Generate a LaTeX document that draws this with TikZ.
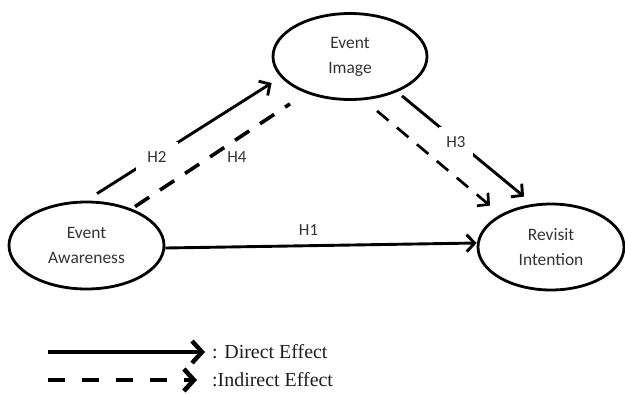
\documentclass[tikz,border=0pt]{standalone}
\usepackage{fontspec}
\setmainfont{Carlito}
\newfontfamily\legfont{Liberation Serif}
\usetikzlibrary{shapes.geometric,arrows.meta,calc}
\definecolor{txtgray}{HTML}{333333}
\definecolor{legtxt}{HTML}{1E1E1E}
\begin{document}
\begin{tikzpicture}[x=1bp,y=-1bp,
  construct/.style={ellipse,draw,line width=2.8bp,inner sep=0pt,align=center,
    minimum width=154bp,minimum height=86bp,
    font=\fontsize{17.5}{25}\selectfont,text=txtgray},
  hyp/.style={font=\fontsize{17}{20}\selectfont,text=txtgray,inner sep=0pt},
  direct/.style={line width=2.9bp,-{Straight Barb[length=8bp,width=17bp,line width=2.9bp]}},
  indirect/.style={line width=3.6bp,dash pattern=on 17bp off 13bp},
  indirectarrow/.style={line width=2.7bp,dash pattern=on 15bp off 11bp,
    -{Straight Barb[length=8bp,width=17bp,line width=2.7bp]}},
  legsolid/.style={line width=4.4bp,-{Straight Barb[length=10bp,width=22bp,line width=4.4bp]}},
  legdash/.style={line width=4.6bp,dash pattern=on 17bp off 17bp,
    -{Straight Barb[length=10bp,width=22bp,line width=4.6bp]}},
  legtext/.style={font=\legfont\fontsize{20}{24}\selectfont,text=legtxt,anchor=west,inner sep=0pt}
]
\useasboundingbox (0,0) rectangle (625,393);

% constructs
\node[construct] (img) at (350,56.5) {Event\\Image};
\node[construct,minimum width=155bp,minimum height=87bp] (aw) at (86.5,245.5) {Event\\Awareness};
\node[construct,minimum width=146bp,minimum height=86bp] (ri) at (551,247) {Revisit\\Intention};

% H1
\draw[direct] ($(aw.east)+(0,2.5)$) -- node[hyp,above=9bp,pos=0.46] (h1) {H1} ($(ri.west)+(0,-4)$);

% H2 (direct, with gap for label)
\draw[direct] ($(aw.north)+(10.5,-7)$) -- ($(img.west)+(0,26.5)$);
\node[hyp,fill=white,minimum width=42bp,minimum height=30bp] (h2) at (157,157) {H2};

% H4 (indirect, dashed, no head)
\draw[indirect] ($(aw.north)+(48.5,6)$) -- ($(img.south)+(-60,3)$);
\node[hyp] (h4) at (237,157) {H4};

% H3 (direct, with gap for label)
\draw[direct] ($(img.south)+(52,-5)$) -- ($(ri.north)+(-27,-6)$);
\node[hyp,fill=white,minimum width=34bp,minimum height=30bp] (h3) at (456,142) {H3};

% indirect arrow image -> revisit
\draw[indirectarrow] ($(img.south)+(27,10)$) -- ($(ri.north)+(-61,3)$);

% legend
\coordinate (ls1) at (48,352);
\coordinate (ls2) at (205,352);
\coordinate (ld1) at (48,380);
\coordinate (ld2) at (197,380);
\draw[legsolid] (ls1) -- (ls2);
\draw[legdash] (ld1) -- (ld2);
\node[legtext] (lt1) at (212,352) {: Direct Effect};
\node[legtext] (lt2) at (212,380) {:Indirect Effect};
\end{tikzpicture}
\end{document}
